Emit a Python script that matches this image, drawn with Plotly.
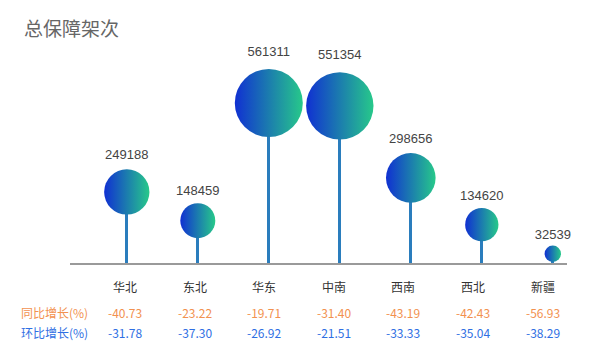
import plotly.graph_objects as go

categories = ["华北", "东北", "华东", "中南", "西南", "西北", "新疆"]
values = [249188, 148459, 561311, 551354, 298656, 134620, 32539]
yoy = ["-40.73", "-23.22", "-19.71", "-31.40", "-43.19", "-42.43", "-56.93"]
mom = ["-31.78", "-37.30", "-26.92", "-21.51", "-33.33", "-35.04", "-38.29"]
row_labels = ["同比增长(%)", "环比增长(%)"]
title = "总保障架次"

W, H = 595, 359
ML, MR, MT, MB = 70, 28, 20, 96
plot_w = W - ML - MR

CJK = "Noto Sans CJK SC"
fig = go.Figure()

# stems
fig.add_trace(go.Bar(
    x=list(range(len(categories))), y=values, width=0.045,
    marker=dict(color="#2a7dbd", line=dict(width=0)),
    hoverinfo="skip", showlegend=False,
))

# bubbles
vmax = max(values)
fig.add_trace(go.Scatter(
    x=list(range(len(categories))), y=values,
    mode="markers+text",
    text=[str(v) for v in values],
    textposition="top center",
    textfont=dict(family="Liberation Sans, Arial", size=13, color="#444444"),
    marker=dict(
        size=values, sizemode="area", sizeref=2 * vmax / 68**2,
        color="#1030d2",
        gradient=dict(type="horizontal", color="#27c98a"),
        line=dict(width=0), opacity=1,
    ),
    showlegend=False, cliponaxis=False,
))

annotations = []
tx0, tdx = 125, 69.6
for i, c in enumerate(categories):
    xp = (tx0 + tdx * i - ML) / plot_w
    annotations.append(dict(x=xp, y=0, xref="paper", yref="paper", text=c,
                            showarrow=False, yshift=-23, xanchor="center", yanchor="middle",
                            font=dict(family=CJK, size=12, color="#333333")))
    annotations.append(dict(x=xp, y=0, xref="paper", yref="paper", text=yoy[i],
                            showarrow=False, yshift=-49, xanchor="center", yanchor="middle",
                            font=dict(family=CJK, size=12, color="#f2914f")))
    annotations.append(dict(x=xp, y=0, xref="paper", yref="paper", text=mom[i],
                            showarrow=False, yshift=-69.5, xanchor="center", yanchor="middle",
                            font=dict(family=CJK, size=12, color="#2f6fe3")))
lx = (54.5 - ML) / plot_w
annotations.append(dict(x=lx, y=0, xref="paper", yref="paper", text=row_labels[0],
                        showarrow=False, yshift=-49, xanchor="center", yanchor="middle",
                        font=dict(family=CJK, size=12, color="#f2914f")))
annotations.append(dict(x=lx, y=0, xref="paper", yref="paper", text=row_labels[1],
                        showarrow=False, yshift=-69.5, xanchor="center", yanchor="middle",
                        font=dict(family=CJK, size=12, color="#2f6fe3")))

plot_h = H - MT - MB
ymax = vmax * plot_h / 160

fig.update_layout(
    width=W, height=H,
    margin=dict(l=ML, r=MR, t=MT, b=MB),
    paper_bgcolor="white", plot_bgcolor="white",
    title=dict(text=title, x=24 / W, xanchor="left", y=1 - 29 / H, yanchor="middle",
               font=dict(family=CJK, size=19, color="#666666")),
    xaxis=dict(range=[-0.8, 6.2], showgrid=False, zeroline=False, showticklabels=False,
               showline=True, linecolor="#9a9a9a", linewidth=2, ticks="", fixedrange=True),
    yaxis=dict(range=[0, ymax], visible=False, fixedrange=True),
    annotations=annotations,
    bargap=0,
)

fig.write_html("out.html", config={"displayModeBar": False},
               post_script="document.body.style.margin='0';document.body.style.overflow='hidden';")
